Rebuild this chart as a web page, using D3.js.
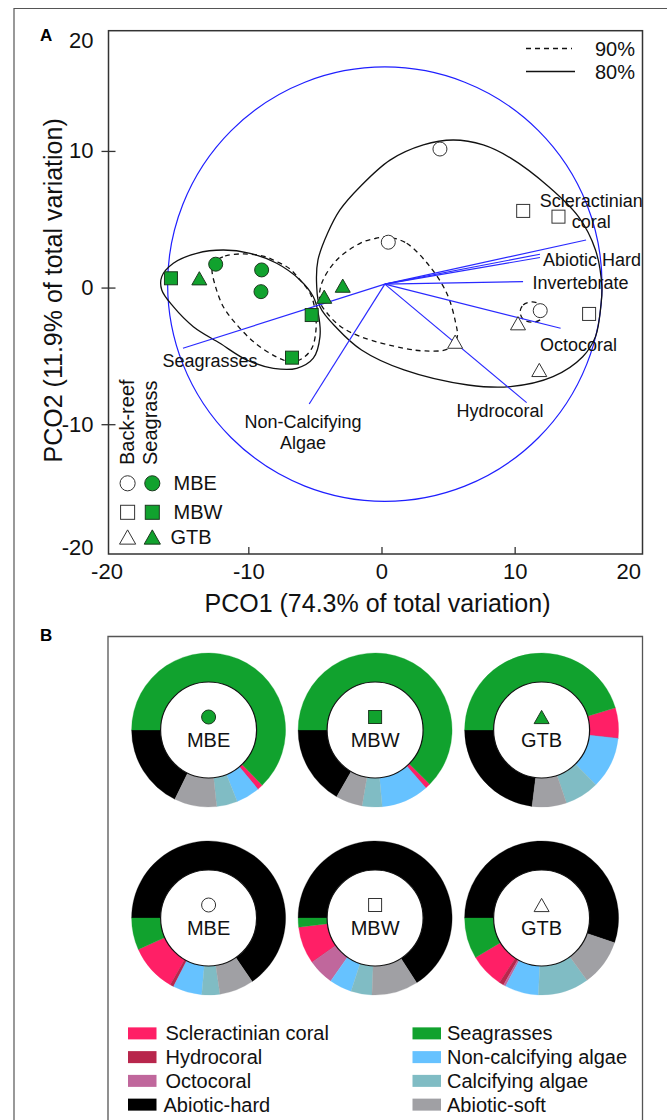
<!DOCTYPE html>
<html><head><meta charset="utf-8">
<script src="https://cdn.jsdelivr.net/npm/d3@7"></script>
<style>
body{margin:0;background:#fff;}
svg{display:block;font-family:"Liberation Sans",Arial,sans-serif;}
</style></head><body>
<svg id="c" width="667" height="1120"></svg>
<script>
// ---------------- DATA ----------------
// PCO scores of samples
const ptHabitat = ["Seagrass","Seagrass","Seagrass","Seagrass","Seagrass","Seagrass","Seagrass","Seagrass","Seagrass",
                   "Back-reef","Back-reef","Back-reef","Back-reef","Back-reef","Back-reef","Back-reef","Back-reef","Back-reef"];
const ptSite = ["MBE","MBE","MBE","MBW","MBW","MBW","GTB","GTB","GTB",
                "MBE","MBE","MBE","MBW","MBW","MBW","GTB","GTB","GTB"];
const ptPCO1 = [-12.45,-9.0,-9.05, -15.81,-5.24,-6.72, -13.68,-4.30,-2.91,
                 4.39,0.51,11.92, 10.64,13.29,15.59, 10.25,5.53,11.85];
const ptPCO2 = [1.71,1.29,-0.30, 0.68,-2.01,-5.13, 0.68,-0.67,0.14,
                10.14,3.32,-1.69, 5.61,5.19,-1.93, -2.61,-3.96,-6.03];

// vector overlay (origin and tips)
const vecOrigin = [0.25, 0.25];
const vecName = ["Scleractinian coral","Abiotic Hard","Abiotic Soft","Invertebrate","Octocoral","Hydrocoral","Non-Calcifying Algae","Seagrasses"];
const vecPCO1 = [15.36, 11.90, 11.90, 10.63, 13.45, 10.90, -5.43, -14.91];
const vecPCO2 = [3.48, 2.44, 2.20, 0.43, -2.98, -8.42, -8.52, -4.44];
const circleRadius = 16.1;

// vector label text and anchor (data units)
const vecLabelLines = [["Scleractinian","coral"],["Abiotic Hard"],["Invertebrate"],["Octocoral"],["Hydrocoral"],["Non-Calcifying","Algae"],["Seagrasses"]];
const vecLabelPCO1 = [15.75, 15.81, 14.95, 14.8, 8.9, -5.9, -12.88];
const vecLabelPCO2 = [5.92, 1.58, -0.10, -4.62, -9.49, -10.3, -5.83];

// similarity contours (data units)
const contourSeagrass80 = [[-16.5,0.80],[-15.63,1.78],[-13.88,2.51],[-11.88,2.75],[-9.87,2.51],[-7.87,1.78],[-6.12,0.56],[-5.12,-0.67],
  [-4.75,-1.88],[-4.62,-3.59],[-5.12,-5.17],[-6.37,-5.91],[-8.12,-5.91],[-10.12,-5.30],[-12.13,-4.08],[-14.13,-2.86],[-15.63,-1.40],[-16.5,-0.18]];
const contourSeagrass90 = [[-12.63,1.78],[-11.75,2.31],[-10.38,2.46],[-8.90,2.31],[-7.87,1.90],[-6.87,1.36],[-6.12,0.56],[-5.37,-0.40],
  [-4.99,-1.64],[-4.92,-3.10],[-5.22,-4.42],[-5.89,-5.15],[-6.72,-5.45],[-7.87,-5.08],[-9.50,-4.05],[-10.85,-2.74],[-11.88,-1.40],[-12.50,0.19],[-12.73,1.29]];
const contourBackreef80 = [[5.39,10.80],[7.64,10.44],[9.68,9.49],[12.56,7.38],[14.79,5.19],[16.07,2.75],[16.55,0.07],[16.48,-1.27],
  [16.07,-3.59],[15.11,-5.06],[12.88,-6.52],[9.68,-7.25],[6.50,-7.13],[1.69,-6.03],[-1.50,-4.57],[-3.36,-2.96],[-4.62,-1.40],[-4.87,0.19],
  [-4.77,2.02],[-4.05,3.97],[-3.12,5.68],[-1.61,7.38],[0.64,9.33],[3.14,10.44]];
const contourBackreef90 = [[0.51,3.68],[1.89,3.24],[3.64,1.53],[4.90,-0.42],[5.52,-2.37],[5.67,-3.69],[4.99,-4.49],[3.27,-4.64],[1.69,-4.44],
  [-1.50,-3.62],[-3.12,-2.81],[-4.09,-1.86],[-4.62,-1.03],[-4.49,0.31],[-3.36,2.02],[-1.61,3.24],[-0.49,3.59]];
const contourBackreef90b = [[10.41,-1.79],[10.64,-1.27],[11.31,-1.05],[11.98,-1.27],[12.2,-1.79],[11.98,-2.31],[11.31,-2.53],[10.64,-2.31]];

// axis ticks
const xTicks = [-10, 0, 10];
const yTicks = [-10, 0, 10];

// panel B: benthic cover (%), legend order
const coverCats = ["Scleractinian coral","Hydrocoral","Octocoral","Abiotic-hard","Seagrasses","Non-calcifying algae","Calcifying algae","Abiotic-soft"];
const coverColors = ["#ff1f66","#b8264c","#c0679c","#000000","#11a22e","#66c2ff","#80bcc4","#a0a0a4"];
const pieOrder = ["Seagrasses","Scleractinian coral","Hydrocoral","Octocoral","Non-calcifying algae","Calcifying algae","Abiotic-soft","Abiotic-hard"];
const coverSeagrassMBE = [1.2, 0, 0, 17.8, 62.8, 5.0, 4.4, 8.9];
const coverSeagrassMBW = [1.1, 0, 0, 16.7, 62.5, 10.0, 4.2, 5.6];
const coverSeagrassGTB = [6.4, 0, 0, 23.0, 45.3, 10.8, 7.2, 7.2];
const coverBackreefMBE = [10.0, 0.8, 0, 65.5, 6.7, 6.1, 3.8, 7.2];
const coverBackreefMBW = [7.8, 0, 5.5, 65.8, 1.9, 4.7, 4.4, 9.7];
const coverBackreefGTB = [7.2, 1.0, 0.5, 55.3, 8.6, 7.1, 10.7, 9.8];

// ---------------- DRAW ----------------
const svg = d3.select("#c");
const GREEN = "#11a22e", GREEN_STROKE = "#1c3a1f";

// outer frame
svg.append("path").attr("d","M14,1120V8.5H667").attr("fill","none").attr("stroke","#555").attr("stroke-width",1.2);

// panel labels
svg.append("text").attr("x",40).attr("y",41).attr("font-size",17).attr("font-weight","bold").text("A");
svg.append("text").attr("x",40).attr("y",641).attr("font-size",17).attr("font-weight","bold").text("B");

// scales
const x = d3.scaleLinear().domain([-20.5, 19.6]).range([108.5, 642.5]);
const y = d3.scaleLinear().domain([18.8, -19.5]).range([30.7, 554]);
const [X0,X1] = x.range(), [Y0,Y1] = y.range();

const gA = svg.append("g");

// blue correlation circle
const cx0 = x(vecOrigin[0]), cy0 = y(vecOrigin[1]);
const rPix = ((x(circleRadius)-x(0)) + (y(0)-y(circleRadius)))/2;
gA.append("circle").attr("cx",cx0).attr("cy",cy0).attr("r",rPix)
  .attr("fill","none").attr("stroke","#1f1fff").attr("stroke-width",1.2);

// contours
const cline = d3.line().x(d=>x(d[0])).y(d=>y(d[1])).curve(d3.curveCatmullRomClosed.alpha(0.5));
[[contourSeagrass80,false],[contourBackreef80,false],[contourSeagrass90,true],[contourBackreef90,true],[contourBackreef90b,true]]
  .forEach(([pts,dash])=>{
    gA.append("path").attr("d",cline(pts)).attr("fill","none").attr("stroke","#111")
      .attr("stroke-width",1.3).attr("stroke-dasharray",dash?"5,4":null);
  });

// vectors
vecName.forEach((n,i)=>{
  gA.append("line").attr("x1",cx0).attr("y1",cy0).attr("x2",x(vecPCO1[i])).attr("y2",y(vecPCO2[i]))
    .attr("stroke","#2a2aff").attr("stroke-width",1.2);
});

// markers
function tri(s){const h=s*0.88;return `M0,${-h/2}L${s/2},${h/2}L${-s/2},${h/2}Z`;}
function marker(g, site, filled, px, py, scale){
  const fill = filled?GREEN:"#fff", stroke = filled?GREEN_STROKE:"#333";
  const k = scale||1;
  let m;
  if(site==="MBE") m = g.append("circle").attr("cx",px).attr("cy",py).attr("r",7*k);
  else if(site==="MBW") m = g.append("rect").attr("x",px-6.5*k).attr("y",py-6.5*k).attr("width",13*k).attr("height",13*k);
  else m = g.append("path").attr("d",tri(15*k)).attr("transform",`translate(${px},${py})`);
  m.attr("fill",fill).attr("stroke",stroke).attr("stroke-width",1);
}
ptPCO1.forEach((v,i)=>marker(gA, ptSite[i], ptHabitat[i]==="Seagrass", x(v), y(ptPCO2[i])));

// vector labels
vecLabelLines.forEach((lines,i)=>{
  const t = gA.append("text").attr("x",x(vecLabelPCO1[i])).attr("y",y(vecLabelPCO2[i]))
    .attr("text-anchor","middle").attr("font-size",18).attr("fill","#111");
  lines.forEach((l,j)=>t.append("tspan").attr("x",x(vecLabelPCO1[i])).attr("dy",j?21:0).text(l));
});

// plot box
gA.append("rect").attr("x",X0).attr("y",Y0).attr("width",X1-X0).attr("height",Y1-Y0)
  .attr("fill","none").attr("stroke","#333").attr("stroke-width",1.5);

// x axis
const fmt = d=>Math.round(d/10)*10;
const gx = gA.append("g").attr("transform",`translate(0,${Y1})`)
  .call(d3.axisBottom(x).tickValues([x.domain()[0]].concat(xTicks,[x.domain()[1]])).tickFormat(fmt)
    .tickSizeInner(-7).tickSizeOuter(0).tickPadding(9));
gx.select(".domain").remove();
gx.selectAll("line").attr("stroke","#333").attr("stroke-width",1.3);
gx.selectAll(".tick text").attr("font-size",22).attr("font-family","Liberation Sans, Arial, sans-serif").attr("fill","#111");
gx.selectAll(".tick").filter((d,i,n)=>i===0||i===n.length-1).select("line").remove();
gx.selectAll(".tick").filter((d,i)=>i===0).select("text").attr("dx",-2);
gx.selectAll(".tick").filter((d,i,n)=>i===n.length-1).select("text").attr("text-anchor","end").attr("dx",-2);

// y axis
const gy = gA.append("g").attr("transform",`translate(${X0},0)`)
  .call(d3.axisLeft(y).tickValues([y.domain()[0]].concat(yTicks,[y.domain()[1]])).tickFormat(fmt)
    .tickSizeInner(7).tickSizeOuter(0).tickPadding(8));
gy.select(".domain").remove();
gy.selectAll("line").attr("x2",-7).attr("x1",7).attr("stroke","#333").attr("stroke-width",1.3);
gy.selectAll(".tick text").attr("font-size",22).attr("font-family","Liberation Sans, Arial, sans-serif").attr("fill","#111");
gy.selectAll(".tick").filter((d,i)=>i===0).select("line").remove();
gy.selectAll(".tick").filter((d,i,n)=>i===n.length-1).select("line").remove();
gy.selectAll(".tick").filter((d,i)=>i===0).select("text").attr("dy","0.75em");
gy.selectAll(".tick").filter((d,i,n)=>i===n.length-1).select("text").attr("dy","0em");

// axis titles
gA.append("text").attr("x",(X0+X1)/2+2).attr("y",612).attr("text-anchor","middle").attr("font-size",25).attr("fill","#111")
  .text("PCO1 (74.3% of total variation)");
gA.append("text").attr("transform",`translate(62,${(Y0+Y1)/2-2}) rotate(-90)`).attr("text-anchor","middle")
  .attr("font-size",25).attr("fill","#111").text("PCO2 (11.9% of total variation)");

// contour legend (top right)
gA.append("line").attr("x1",526).attr("x2",572).attr("y1",48.5).attr("y2",48.5).attr("stroke","#111").attr("stroke-width",1.3).attr("stroke-dasharray","5,4");
gA.append("line").attr("x1",526).attr("x2",575).attr("y1",71.5).attr("y2",71.5).attr("stroke","#111").attr("stroke-width",1.3);
gA.append("text").attr("x",595).attr("y",55.5).attr("font-size",20).attr("fill","#111").text("90%");
gA.append("text").attr("x",595).attr("y",78.5).attr("font-size",20).attr("fill","#111").text("80%");

// habitat / site legend (bottom left)
const habitats = ["Back-reef","Seagrass"];
const habitatTextX = [134, 156.5];
habitats.forEach((h,i)=>{
  gA.append("text").attr("transform",`translate(${habitatTextX[i]},465) rotate(-90)`).attr("font-size",20).attr("fill","#111").text(h);
});
const legSites = ["MBE","MBW","GTB"];
const legRowY = [483.3, 512.3, 537];
const legTextX = [173.5, 173.5, 170.5];
legSites.forEach((s,i)=>{
  marker(gA, s, false, 127.6, legRowY[i], 1.08);
  marker(gA, s, true, 152.3, legRowY[i], 1.08);
  gA.append("text").attr("x",legTextX[i]).attr("y",legRowY[i]+7).attr("font-size",20).attr("fill","#111").text(s);
});

// ---------------- PANEL B ----------------
const gB = svg.append("g");
gB.append("path").attr("d","M108,1125V636.5H642.5V1125").attr("fill","none").attr("stroke","#555").attr("stroke-width",1.3);

const rowData = [
  {habitat:"Seagrass", filled:true, values:[coverSeagrassMBE,coverSeagrassMBW,coverSeagrassGTB], clockwise:true},
  {habitat:"Back-reef", filled:false, values:[coverBackreefMBE,coverBackreefMBW,coverBackreefGTB], clockwise:false}
];
const colX = d3.scalePoint().domain(legSites).range([208.6, 541.6]);
const rowY = d3.scalePoint().domain(["Seagrass","Back-reef"]).range([730, 918]);
const arc = d3.arc().innerRadius(48).outerRadius(77);
rowData.forEach(row=>{
  const pie = d3.pie().value(d=>d.v).sort((a,b)=>pieOrder.indexOf(a.c)-pieOrder.indexOf(b.c))
    .startAngle(-Math.PI/2).endAngle(row.clockwise? 1.5*Math.PI : -2.5*Math.PI);
  legSites.forEach((s,j)=>{
    const cx = colX(s), cy = rowY(row.habitat);
    const g = gB.append("g").attr("transform",`translate(${cx},${cy})`);
    const data = coverCats.map((c,k)=>({c, v:row.values[j][k], col:coverColors[k]}));
    g.selectAll("path").data(pie(data)).join("path").attr("d",arc).attr("fill",d=>d.data.col)
      .attr("stroke",d=>d.data.col).attr("stroke-width",0.3);
    g.append("circle").attr("r",48).attr("fill","#fff").attr("stroke","#111").attr("stroke-width",1.2);
    marker(g, s, row.filled, 0, -13, 1.0);
    g.append("text").attr("y",16.5).attr("text-anchor","middle").attr("font-size",20).attr("fill","#111").text(s);
  });
});

// legend B
const legB = d3.scaleBand().domain(d3.range(4)).range([1021.5, 1116.5]);
coverCats.forEach((c,k)=>{
  const col = Math.floor(k/4), row = k%4;
  const sx = col? 412.5 : 128, tx = col? 447 : (k===3?163.5:165.5);
  const yy = legB(row) + legB.bandwidth()/2;
  gB.append("rect").attr("x",sx).attr("y",yy-6).attr("width",28.5).attr("height",12).attr("fill",coverColors[k]);
  gB.append("text").attr("x",tx).attr("y",yy+7).attr("font-size",20).attr("fill","#111").text(c);
});
</script>
</body></html>
